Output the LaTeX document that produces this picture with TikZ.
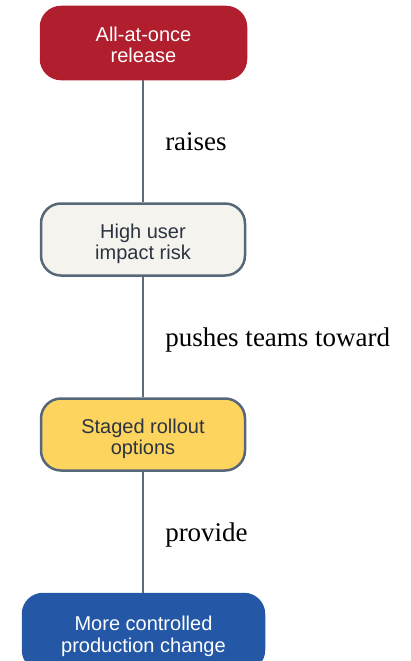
\documentclass[tikz,border=0pt]{standalone}
\usepackage{fontspec}
\setmainfont{Liberation Serif}
\newfontfamily\boxfont{Liberation Sans}
\definecolor{redfill}{HTML}{B11F2E}
\definecolor{creamfill}{HTML}{F5F3EE}
\definecolor{yellowfill}{HTML}{FDD45E}
\definecolor{bluefill}{HTML}{2458A6}
\definecolor{slate}{HTML}{56677A}
\definecolor{linkgray}{HTML}{5C6B77}
\definecolor{inkdark}{HTML}{2B3440}
% two centred lines, baseline on the last line
\newcommand{\boxlines}[2]{\begin{tabular}[b]{@{}c@{}}#1\\#2\end{tabular}}
\begin{document}
\begin{tikzpicture}[x=1pt,y=1pt,
  flowbox/.style={rounded corners=20pt, line width=2.5pt,
    font=\boxfont\fontsize{20}{21.5}\selectfont, minimum height=72pt, inner sep=0pt,
    text height=40pt, text depth=0pt},
  lightbox/.style={flowbox, draw=slate, text=inkdark},
  darkbox/.style={flowbox, text=white},
  link/.style={draw=linkgray, line width=2.5pt},
  linklabel/.style={midway, anchor=base west, inner sep=0pt, xshift=21pt, yshift=-9.5pt,
    font=\fontsize{27}{30}\selectfont, text=black}]
\useasboundingbox (0,0) rectangle (410,-661);
\clip (0,0) rectangle (410,-661);
\node[darkbox, fill=redfill, draw=redfill, minimum width=205pt] (release) at (143.5,-43) {\boxlines{All-at-once}{release}};
\node[lightbox, fill=creamfill, minimum width=204pt] (risk) at (143,-239.5) {\boxlines{High user}{impact risk}};
\node[lightbox, fill=yellowfill, minimum width=204pt] (staged) at (143,-434.5) {\boxlines{Staged rollout}{options}};
\node[darkbox, fill=bluefill, draw=bluefill, minimum width=241pt, minimum height=76pt] (controlled) at (143.5,-632) {\boxlines{More controlled}{production change}};
\path[link] (release.south -| 143,0) -- (risk.north -| 143,0) node[linklabel] {raises};
\path[link] (risk.south) -- (staged.north) node[linklabel] {pushes teams toward};
\path[link] (staged.south) -- (controlled.north -| 143,0) node[linklabel] {provide};
\end{tikzpicture}
\end{document}
